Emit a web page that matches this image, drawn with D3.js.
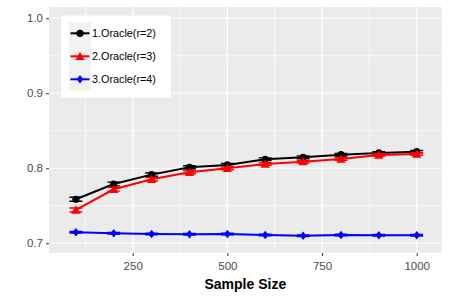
<!DOCTYPE html>
<html><head><meta charset="utf-8">
<script src="https://cdn.jsdelivr.net/npm/d3@7"></script>
<style>body{margin:0;background:#fff}svg{display:block;font-family:"Liberation Sans",Arial,sans-serif}</style>
</head><body>
<svg id="c" width="450" height="300"></svg>
<script>
const sampleSizes = [100,200,300,400,500,600,700,800,900,1000];
const seriesNames = ["1.Oracle(r=2)","2.Oracle(r=3)","3.Oracle(r=4)"];
const seriesColors = ["#000000","#FF0000","#0000FF"];
const oracleR2 = [0.7587,0.7790,0.7915,0.8013,0.8044,0.8120,0.8147,0.8181,0.8204,0.8221];
const oracleR3 = [0.7444,0.7720,0.7853,0.7947,0.8000,0.8057,0.8088,0.8124,0.8177,0.8190];
const oracleR4 = [0.7147,0.7133,0.7124,0.7120,0.7124,0.7110,0.7101,0.7110,0.7107,0.7107];
const errR2 = [0.0027,0.0025,0.0022,0.0020,0.0020,0.0018,0.0018,0.0017,0.0017,0.0016];
const errR3 = [0.0027,0.0025,0.0022,0.0020,0.0020,0.0018,0.0018,0.0017,0.0017,0.0016];
const errR4 = [0.0010,0.0010,0.0010,0.0010,0.0010,0.0010,0.0010,0.0010,0.0010,0.0010];
const xTicks = [250,500,750,1000];
const yTicks = [0.7,0.8,0.9,1.0];
const xMinor = [125,375,625,875];
const yMinor = [0.75,0.85,0.95];

const svg = d3.select("#c");
const P = {l:49, r:441.7, t:7, b:253};
const x = d3.scaleLinear().domain([29,1066]).range([P.l,P.r]);
const y = d3.scaleLinear().domain([0.687,1.015]).range([P.b,P.t]);

svg.append("rect").attr("x",P.l).attr("y",P.t).attr("width",P.r-P.l).attr("height",P.b-P.t).attr("fill","#EBEBEB");
const g = svg.append("g");
xMinor.forEach(v=>g.append("line").attr("x1",x(v)).attr("x2",x(v)).attr("y1",P.t).attr("y2",P.b).attr("stroke","#fff").attr("stroke-width",0.6));
yMinor.forEach(v=>g.append("line").attr("y1",y(v)).attr("y2",y(v)).attr("x1",P.l).attr("x2",P.r).attr("stroke","#fff").attr("stroke-width",0.6));
xTicks.forEach(v=>g.append("line").attr("x1",x(v)).attr("x2",x(v)).attr("y1",P.t).attr("y2",P.b).attr("stroke","#fff").attr("stroke-width",1.2));
yTicks.forEach(v=>g.append("line").attr("y1",y(v)).attr("y2",y(v)).attr("x1",P.l).attr("x2",P.r).attr("stroke","#fff").attr("stroke-width",1.2));

// axes
const xa = svg.append("g").attr("transform",`translate(0,${P.b})`).call(d3.axisBottom(x).tickValues(xTicks).tickSize(3).tickPadding(3).tickFormat(d3.format("d")));
const ya = svg.append("g").attr("transform",`translate(${P.l},0)`).call(d3.axisLeft(y).tickValues(yTicks).tickSize(3).tickPadding(3).tickFormat(d3.format(".1f")));
[xa,ya].forEach(a=>{a.select(".domain").remove();a.selectAll(".tick line").attr("stroke","#333").attr("stroke-width",1);
  a.selectAll("text").attr("fill","#4D4D4D").attr("font-size",11.5).attr("font-family","Liberation Sans, Arial, sans-serif");});
xa.selectAll("text").attr("dy","0.95em");

svg.append("text").attr("x",(P.l+P.r)/2).attr("y",289).attr("text-anchor","middle").attr("font-weight","bold").attr("font-size",14).text("Sample Size");

const data = [oracleR2,oracleR3,oracleR4];
const errs = [errR2,errR3,errR4];
const line = d3.line().x((d,i)=>x(sampleSizes[i])).y(d=>y(d));
const capHalf = 17;
function marker(sel, k, cx, cy){
  if(k===0) sel.append("circle").attr("cx",cx).attr("cy",cy).attr("r",3.6).attr("fill",seriesColors[k]);
  else if(k===1){const s=4.6; sel.append("path").attr("d",`M${cx},${cy-s}L${cx+s},${cy+s*0.8}L${cx-s},${cy+s*0.8}Z`).attr("fill",seriesColors[k]);}
  else {const s=4.2; sel.append("path").attr("d",`M${cx},${cy-s}L${cx+s*0.8},${cy}L${cx},${cy+s}L${cx-s*0.8},${cy}Z`).attr("fill",seriesColors[k]);}
}
data.forEach((vals,k)=>{
  const sg = svg.append("g");
  sg.append("path").datum(vals).attr("d",line).attr("fill","none").attr("stroke",seriesColors[k]).attr("stroke-width",2);
  vals.forEach((v,i)=>{
    const cx=x(sampleSizes[i]);
    const e=errs[k][i];
    const x0=x(sampleSizes[i]-capHalf), x1=x(sampleSizes[i]+capHalf);
    sg.append("path").attr("d",`M${x0},${y(v+e)}H${x1}M${x0},${y(v-e)}H${x1}M${cx},${y(v+e)}V${y(v-e)}`).attr("stroke",seriesColors[k]).attr("stroke-width",1.4).attr("fill","none");
    marker(sg,k,cx,y(v));
  });
});

// legend
const lg = svg.append("g");
lg.append("rect").attr("x",61).attr("y",15.6).attr("width",110).attr("height",82).attr("fill","#fff");
const keyY = [33.3,56.3,79.3];
seriesNames.forEach((n,k)=>{
  lg.append("rect").attr("x",69).attr("y",keyY[k]-11.3).attr("width",22).attr("height",22.6).attr("fill","#F2F2F2");
  lg.append("line").attr("x1",70.5).attr("x2",89.5).attr("y1",keyY[k]).attr("y2",keyY[k]).attr("stroke",seriesColors[k]).attr("stroke-width",2);
  marker(lg,k,80,keyY[k]);
  lg.append("text").attr("x",92).attr("y",keyY[k]).attr("dy","0.36em").attr("font-size",10.8).attr("fill","#000").text(n);
});
</script>
</body></html>
